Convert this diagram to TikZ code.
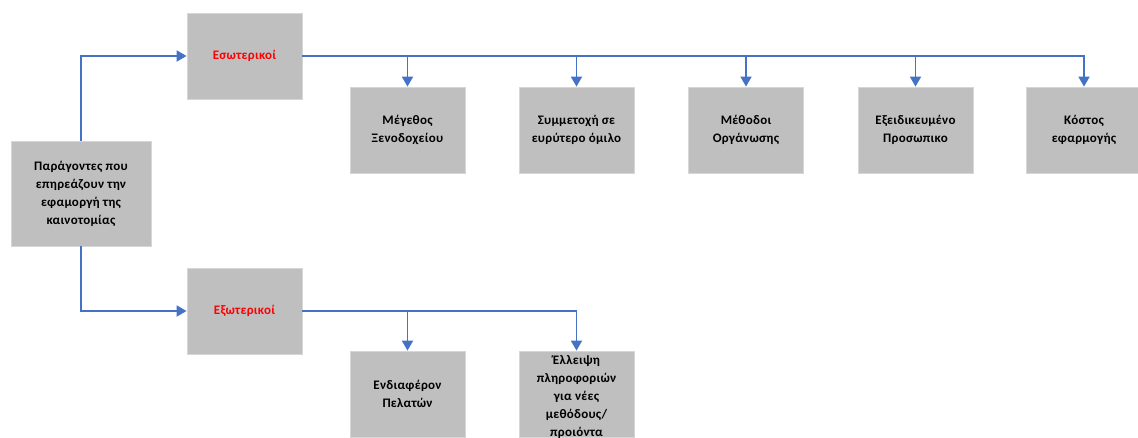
\documentclass[tikz,border=0pt]{standalone}
\usepackage{fontspec}
\setmainfont{Carlito}[BoldFont={Carlito Bold},LetterSpace=2]
\usetikzlibrary{arrows.meta}
\definecolor{boxgrey}{HTML}{BFBFBF}
\definecolor{boxedge}{HTML}{D6D6D6}
\definecolor{connblue}{HTML}{4472C4}
\definecolor{lblred}{HTML}{FF0000}
\begin{document}
\begin{tikzpicture}[x=1pt,y=-1pt,
  box/.style={fill=boxgrey,draw=boxedge,line width=0.8pt,minimum width=115pt,minimum height=86pt,inner sep=0pt,align=center,
    font=\fontsize{13}{18}\selectfont\bfseries},
  lbl/.style={inner sep=0pt,align=center,font=\fontsize{13}{18}\selectfont\bfseries},
  conn/.style={draw=connblue,line width=1.8pt,-{Triangle[length=10pt,width=11pt]}},
  plain/.style={draw=connblue,line width=1.8pt}]
\useasboundingbox (0,0) rectangle (1138,437);
\node[box,minimum width=140pt,minimum height=105pt] (root) at (81,193.5) {Παράγοντες που\\επηρεάζουν την\\εφαμοργή της\\καινοτομίας};
\node[box,text=lblred] (esw) at (244.5,56) {Εσωτερικοί};
\node[box,text=lblred] (exw) at (244.5,311) {Εξωτερικοί};
\node[box] (c1) at (407.5,130) {Μέγεθος\\Ξενοδοχείου};
\node[box] (c2) at (576.5,130) {Συμμετοχή σε\\ευρύτερο όμιλο};
\node[box] (c3) at (746,130) {Μέθοδοι\\Οργάνωσης};
\node[box] (c4) at (915.5,130) {Εξειδικευμένο\\Προσωπικο};
\node[box] (c5) at (1084,130) {Κόστος\\εφαρμογής};
\node[box] (d1) at (407.5,394) {Ενδιαφέρον\\Πελατών};
\node[box] (d2) at (576.5,394) {};
\node[lbl] (d2t) at (576.5,397) {Έλλειψη\\πληροφοριών\\για νέες\\μεθόδους/\\προιόντα};
\draw[conn] (root.north) |- (esw.west);
\draw[conn] (root.south) |- (exw.west);
\draw[plain] (esw.east) -- (c5.north |- esw.east);
\foreach \c in {c1,c2,c3,c4,c5} \draw[conn] (esw.east) -| (\c.north);
\draw[plain] (exw.east) -- (d2.north |- exw.east);
\foreach \c in {d1,d2} \draw[conn] (exw.east) -| (\c.north);
\end{tikzpicture}
\end{document}
